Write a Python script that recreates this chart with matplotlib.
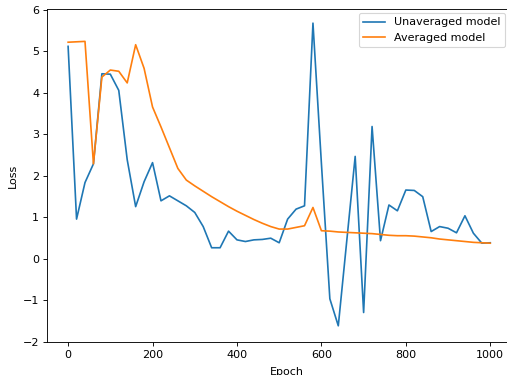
import matplotlib
matplotlib.use('Agg')
import matplotlib.pyplot as plt

# epochs sampled every 20
epochs = list(range(0, 1001, 20))

unaveraged = [5.12, 0.96, 1.84, 2.29, 4.46, 4.45, 4.06, 2.39, 1.26, 1.86,
              2.32, 1.40, 1.52, 1.40, 1.28, 1.12, 0.78, 0.27, 0.27, 0.67,
              0.46, 0.42, 0.46, 0.47, 0.50, 0.39, 0.96, 1.20, 1.28, 5.68,
              2.30, -0.96, -1.61, 0.43, 2.47, -1.29, 3.19, 0.44, 1.30, 1.16,
              1.66, 1.65, 1.50, 0.66, 0.78, 0.74, 0.63, 1.04, 0.62, 0.38,
              0.39]

averaged = [5.22, 5.23, 5.24, 2.29, 4.38, 4.55, 4.52, 4.24, 5.16, 4.59,
            3.66, 3.18, 2.68, 2.18, 1.90, 1.76, 1.63, 1.50, 1.38, 1.26,
            1.15, 1.05, 0.95, 0.86, 0.78, 0.72, 0.72, 0.76, 0.80, 1.24,
            0.68, 0.67, 0.65, 0.64, 0.63, 0.62, 0.61, 0.59, 0.57, 0.56,
            0.56, 0.55, 0.53, 0.51, 0.48, 0.46, 0.44, 0.42, 0.40, 0.39,
            0.38]

dpi = 80
W, H = 507, 375
fig = plt.figure(figsize=(W / dpi, H / dpi), dpi=dpi)
# axes runs past the right edge of the image (the original was cropped)
ax = fig.add_axes([47 / W, 33 / H, 480 / W, 333 / H])

ax.plot(epochs, unaveraged, label='Unaveraged model')
ax.plot(epochs, averaged, label='Averaged model')
ax.set_xlim(-50, 1087)
ax.set_ylim(-2, 6.02)
ax.set_xlabel('Epoch', labelpad=6.5)
ax.set_ylabel('Loss')
ax.legend(loc='upper right', bbox_to_anchor=(505 / W, 1 - 13 / H),
          bbox_transform=fig.transFigure, borderaxespad=0)

fig.savefig('out.png', dpi=dpi)
